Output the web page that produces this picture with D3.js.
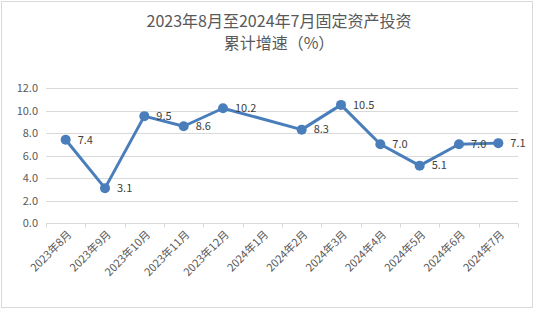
<!DOCTYPE html>
<html><head><meta charset="utf-8">
<script src="https://cdn.jsdelivr.net/npm/d3@7/dist/d3.min.js"></script>
<style>body{margin:0;background:#fff}svg{display:block}</style>
</head><body>
<svg id="c" width="534" height="310"></svg>
<script>
const categories = ["2023年8月","2023年9月","2023年10月","2023年11月","2023年12月","2024年1月","2024年2月","2024年3月","2024年4月","2024年5月","2024年6月","2024年7月"];
const values = [7.4, 3.1, 9.5, 8.6, 10.2, null, 8.3, 10.5, 7.0, 5.1, 7.0, 7.1];
const yTicks = [0, 2, 4, 6, 8, 10, 12];
const titleLines = ["2023年8月至2024年7月固定资产投资", "累计增速（%）"];

(function(){
const svg = d3.select("#c");
const font = "'Noto Sans CJK SC','Microsoft YaHei',sans-serif";
svg.append("rect").attr("x",1.5).attr("y",1.5).attr("width",531).attr("height",306)
  .attr("fill","#fff").attr("stroke","#d9d9d9").attr("stroke-width",1);

const pL = 46, pR = 518, pT = 88, pB = 223;
const x = d3.scaleBand().domain(categories).range([pL, pR]);
const y = d3.scaleLinear().domain([0, 12]).range([pB, pT]);

// title
svg.append("g").selectAll("text").data(titleLines).join("text")
  .attr("x", 279).attr("y", (d,i)=> 27 + i*22)
  .attr("text-anchor","middle").attr("font-family",font).attr("font-size",16)
  .attr("fill","#595959").text(d=>d);

// gridlines
svg.append("g").selectAll("line").data(yTicks.filter(t=>t>0)).join("line")
  .attr("x1", pL).attr("x2", pR).attr("y1", d=>Math.round(y(d))+0.5).attr("y2", d=>Math.round(y(d))+0.5)
  .attr("stroke","#d9d9d9").attr("stroke-width",1);

// y axis labels
const yAxis = d3.axisLeft(y).tickValues(yTicks).tickSize(0).tickPadding(8).tickFormat(d3.format(".1f"));
const gy = svg.append("g").attr("transform",`translate(${pL},0)`).call(yAxis);
gy.select(".domain").remove();
gy.selectAll("text").attr("font-family",font).attr("font-size",11).attr("fill","#595959");

// x axis
const gx = svg.append("g").attr("transform",`translate(0,${Math.round(pB)+0.5})`);
gx.append("line").attr("x1",pL).attr("x2",pR).attr("stroke","#d9d9d9");
const bounds = categories.map(c=>x(c)).concat([pR]);
gx.selectAll("line.tk").data(bounds).join("line").attr("class","tk")
  .attr("x1",d=>Math.round(d)+0.5).attr("x2",d=>Math.round(d)+0.5).attr("y1",0).attr("y2",4)
  .attr("stroke","#d9d9d9");
gx.selectAll("text").data(categories).join("text")
  .attr("transform", d=>`translate(${x(d)+x.bandwidth()/2+4},${9}) rotate(-45)`)
  .attr("text-anchor","end").attr("dy","0.35em")
  .attr("font-family",font).attr("font-size",11).attr("fill","#595959").text(d=>d);

// line
const pts = categories.map((c,i)=>({c, v: values[i]})).filter(d=>d.v!==null);
const line = d3.line().x(d=>x(d.c)+x.bandwidth()/2).y(d=>y(d.v));
svg.append("path").datum(pts).attr("d",line).attr("fill","none")
  .attr("stroke","#4a7ebb").attr("stroke-width",3).attr("stroke-linejoin","round");
svg.append("g").selectAll("circle").data(pts).join("circle")
  .attr("cx",d=>x(d.c)+x.bandwidth()/2).attr("cy",d=>y(d.v)).attr("r",5)
  .attr("fill","#4a7ebb");
svg.append("g").selectAll("text").data(pts).join("text")
  .attr("x",d=>x(d.c)+x.bandwidth()/2+12).attr("y",d=>y(d.v)).attr("dy","0.35em")
  .attr("font-family",font).attr("font-size",11).attr("fill","#404040")
  .text(d=>d3.format(".1f")(d.v));
})();
</script>
</body></html>
